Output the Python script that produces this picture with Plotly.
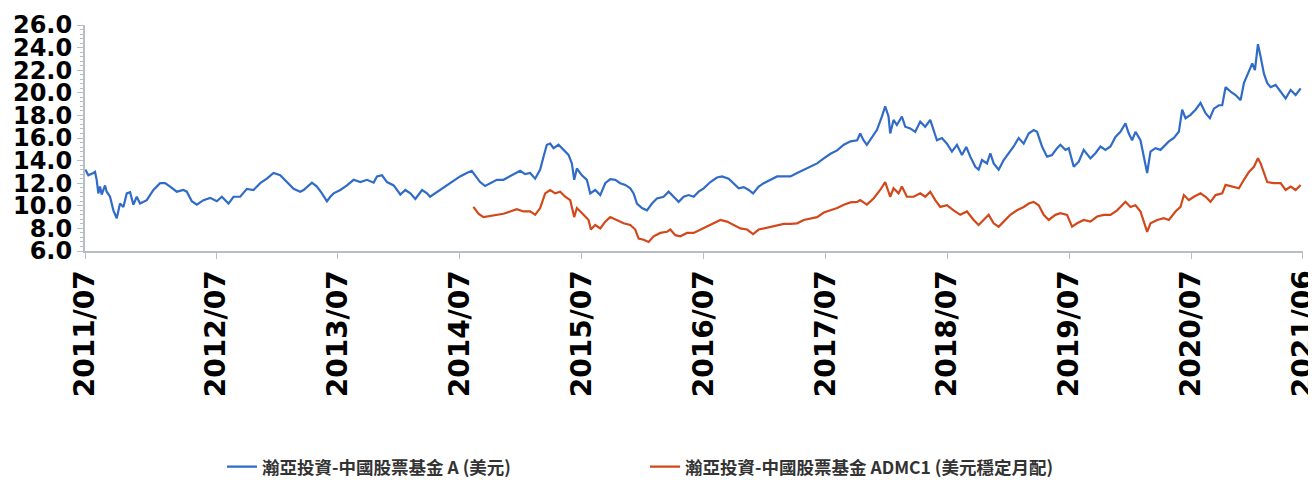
import plotly.graph_objects as go

# ---- data ----
a_dates = [
    "2011-06-05", "2011-06-14", "2011-06-29", "2011-07-04", "2011-07-09", "2011-07-14", "2011-07-19", "2011-07-24",
    "2011-08-03", "2011-08-08", "2011-08-18", "2011-08-28", "2011-09-07", "2011-09-17", "2011-09-27", "2011-10-07",
    "2011-10-17", "2011-10-27", "2011-11-06", "2011-11-16", "2011-12-06", "2011-12-26", "2012-01-15", "2012-01-30",
    "2012-02-14", "2012-03-05", "2012-03-25", "2012-04-04", "2012-04-19", "2012-05-04", "2012-05-24", "2012-06-13",
    "2012-07-03", "2012-07-18", "2012-08-07", "2012-08-22", "2012-09-11", "2012-10-01", "2012-10-21", "2012-11-10",
    "2012-11-30", "2012-12-20", "2013-01-09", "2013-01-29", "2013-02-18", "2013-03-10", "2013-03-20", "2013-04-14",
    "2013-04-29", "2013-05-14", "2013-05-29", "2013-06-08", "2013-06-18", "2013-07-08", "2013-07-28", "2013-08-17",
    "2013-09-06", "2013-09-26", "2013-10-16", "2013-10-26", "2013-11-10", "2013-11-25", "2013-12-15", "2014-01-04",
    "2014-01-19", "2014-02-03", "2014-02-18", "2014-03-10", "2014-03-25", "2014-04-03", "2014-05-03", "2014-06-02",
    "2014-07-02", "2014-07-22", "2014-08-06", "2014-08-16", "2014-08-31", "2014-09-15", "2014-09-30", "2014-10-20",
    "2014-11-09", "2014-11-29", "2014-12-19", "2014-12-29", "2015-01-13", "2015-01-28", "2015-02-12", "2015-02-27",
    "2015-03-09", "2015-03-19", "2015-03-29", "2015-04-08", "2015-04-23", "2015-05-08", "2015-05-23", "2015-06-02",
    "2015-06-09", "2015-06-17", "2015-07-02", "2015-07-17", "2015-07-27", "2015-08-11", "2015-08-26", "2015-09-10",
    "2015-09-25", "2015-10-10", "2015-10-25", "2015-11-09", "2015-11-24", "2015-12-04", "2015-12-14", "2015-12-29",
    "2016-01-13", "2016-01-28", "2016-02-12", "2016-03-03", "2016-03-18", "2016-04-02", "2016-04-17", "2016-05-02",
    "2016-05-17", "2016-06-01", "2016-06-16", "2016-07-01", "2016-07-21", "2016-08-10", "2016-08-25", "2016-09-14",
    "2016-09-29", "2016-10-14", "2016-10-29", "2016-11-13", "2016-11-26", "2016-12-13", "2016-12-28", "2017-01-17",
    "2017-02-06", "2017-02-26", "2017-03-18", "2017-04-07", "2017-04-27", "2017-05-17", "2017-06-06", "2017-06-26",
    "2017-07-16", "2017-08-05", "2017-08-25", "2017-09-14", "2017-10-04", "2017-10-13", "2017-10-23", "2017-11-02",
    "2017-11-17", "2017-12-02", "2017-12-17", "2017-12-27", "2018-01-06", "2018-01-11", "2018-01-21", "2018-01-31",
    "2018-02-15", "2018-02-25", "2018-03-12", "2018-03-27", "2018-04-11", "2018-04-26", "2018-05-11", "2018-05-21",
    "2018-05-31", "2018-06-15", "2018-06-30", "2018-07-15", "2018-07-30", "2018-08-14", "2018-08-27", "2018-09-08",
    "2018-09-23", "2018-10-03", "2018-10-13", "2018-10-28", "2018-11-07", "2018-11-17", "2018-12-02", "2018-12-17",
    "2019-01-01", "2019-01-16", "2019-01-31", "2019-02-15", "2019-03-02", "2019-03-17", "2019-03-27", "2019-04-11",
    "2019-04-26", "2019-05-11", "2019-05-26", "2019-06-05", "2019-06-20", "2019-06-30", "2019-07-15", "2019-07-30",
    "2019-08-14", "2019-09-03", "2019-09-18", "2019-10-03", "2019-10-18", "2019-11-02", "2019-11-17", "2019-12-02",
    "2019-12-17", "2019-12-27", "2020-01-06", "2020-01-16", "2020-01-31", "2020-02-10", "2020-02-20", "2020-03-01",
    "2020-03-16", "2020-03-31", "2020-04-15", "2020-04-25", "2020-05-10", "2020-05-25", "2020-06-04", "2020-06-14",
    "2020-06-29", "2020-07-14", "2020-07-29", "2020-08-13", "2020-08-26", "2020-09-07", "2020-09-22", "2020-10-02",
    "2020-10-12", "2020-10-27", "2020-11-11", "2020-11-26", "2020-12-06", "2020-12-21", "2020-12-31", "2021-01-08",
    "2021-01-17", "2021-01-25", "2021-02-04", "2021-02-14", "2021-02-24", "2021-03-11", "2021-03-26", "2021-04-10",
    "2021-04-25", "2021-05-10", "2021-05-25",
]
a_values = [
    13.2, 12.7, 12.9, 13.0, 12.3, 11.1, 11.7, 11.0,
    11.8, 11.25, 10.8, 9.6, 8.9, 10.2, 9.9, 11.1,
    11.2, 10.1, 10.8, 10.2, 10.5, 11.4, 12.0, 12.0,
    11.7, 11.25, 11.4, 11.25, 10.4, 10.1, 10.5, 10.7,
    10.4, 10.8, 10.2, 10.8, 10.8, 11.5, 11.4, 12.0,
    12.4, 12.9, 12.7, 12.1, 11.5, 11.25, 11.4, 12.05,
    11.7, 11.1, 10.4, 10.8, 11.1, 11.4, 11.8, 12.3,
    12.1, 12.3, 12.05, 12.6, 12.7, 12.1, 11.8, 11.0,
    11.4, 11.1, 10.6, 11.4, 11.1, 10.8, 11.4, 12.0,
    12.6, 12.9, 13.1, 12.7, 12.1, 11.75, 12.0, 12.3,
    12.3, 12.6, 12.9, 13.1, 12.8, 12.9, 12.4, 13.2,
    14.35, 15.4, 15.5, 15.1, 15.4, 14.9, 14.5, 13.75,
    12.3, 13.3, 12.7, 12.3, 11.1, 11.4, 10.95, 12.0,
    12.35, 12.3, 12.0, 11.85, 11.55, 11.1, 10.2, 9.8,
    9.6, 10.2, 10.65, 10.8, 11.25, 10.8, 10.35, 10.8,
    10.95, 10.8, 11.25, 11.55, 12.1, 12.5, 12.6, 12.4,
    12.0, 11.55, 11.65, 11.4, 11.1, 11.7, 12.0, 12.3,
    12.6, 12.6, 12.6, 12.9, 13.2, 13.5, 13.75, 14.2,
    14.6, 14.9, 15.4, 15.7, 15.8, 16.4, 15.8, 15.4,
    16.1, 16.7, 17.9, 18.8, 17.9, 16.4, 17.6, 17.15,
    17.9, 17.0, 16.85, 16.55, 17.45, 17.0, 17.6, 16.7,
    15.8, 16.0, 15.5, 14.8, 15.4, 14.5, 15.2, 14.35,
    13.45, 13.2, 14.05, 13.75, 14.65, 13.75, 13.2, 14.05,
    14.65, 15.25, 16.0, 15.5, 16.4, 16.7, 16.55, 15.25,
    14.35, 14.5, 15.1, 15.4, 14.95, 15.1, 13.45, 13.9,
    14.95, 14.2, 14.65, 15.25, 14.95, 15.25, 16.1, 16.55,
    17.3, 16.4, 15.8, 16.55, 15.8, 14.35, 12.9, 14.8,
    15.1, 14.95, 15.4, 15.7, 16.0, 16.55, 18.5, 17.75,
    18.05, 18.5, 19.1, 18.2, 17.75, 18.6, 18.9, 18.9,
    20.5, 20.1, 19.8, 19.35, 20.85, 21.9, 22.6, 22.0,
    24.3, 23.2, 21.7, 20.85, 20.5, 20.7, 20.1, 19.5,
    20.25, 19.8, 20.4,
]

m_dates = [
    "2014-08-11", "2014-08-26", "2014-09-10", "2014-09-30", "2014-10-20", "2014-11-09", "2014-11-29", "2014-12-19",
    "2015-01-08", "2015-01-28", "2015-02-12", "2015-02-27", "2015-03-14", "2015-03-29", "2015-04-13", "2015-04-28",
    "2015-05-13", "2015-05-28", "2015-06-09", "2015-06-17", "2015-07-07", "2015-07-22", "2015-07-29", "2015-08-11",
    "2015-08-26", "2015-09-10", "2015-09-25", "2015-10-15", "2015-11-04", "2015-11-24", "2015-12-09", "2015-12-19",
    "2016-01-03", "2016-01-18", "2016-02-02", "2016-02-22", "2016-03-13", "2016-03-23", "2016-04-07", "2016-04-22",
    "2016-05-12", "2016-06-01", "2016-06-21", "2016-07-11", "2016-07-31", "2016-08-20", "2016-09-09", "2016-09-29",
    "2016-10-19", "2016-11-08", "2016-11-26", "2016-12-13", "2016-12-28", "2017-01-17", "2017-02-06", "2017-02-26",
    "2017-03-18", "2017-04-07", "2017-04-27", "2017-05-17", "2017-06-06", "2017-06-26", "2017-07-16", "2017-08-05",
    "2017-08-25", "2017-09-14", "2017-10-04", "2017-10-13", "2017-11-02", "2017-11-22", "2017-12-12", "2017-12-27",
    "2018-01-11", "2018-01-21", "2018-02-05", "2018-02-15", "2018-03-02", "2018-03-22", "2018-04-11", "2018-04-26",
    "2018-05-11", "2018-05-26", "2018-06-10", "2018-06-30", "2018-07-20", "2018-08-09", "2018-08-29", "2018-09-18",
    "2018-10-03", "2018-10-18", "2018-11-02", "2018-11-17", "2018-12-02", "2018-12-17", "2019-01-06", "2019-01-26",
    "2019-02-15", "2019-03-02", "2019-03-17", "2019-04-01", "2019-04-16", "2019-05-01", "2019-05-21", "2019-06-05",
    "2019-06-25", "2019-07-10", "2019-07-25", "2019-08-14", "2019-09-03", "2019-09-23", "2019-10-13", "2019-11-02",
    "2019-11-22", "2019-12-17", "2020-01-01", "2020-01-16", "2020-01-31", "2020-02-10", "2020-02-20", "2020-03-01",
    "2020-03-21", "2020-04-10", "2020-04-25", "2020-05-15", "2020-05-30", "2020-06-09", "2020-06-24", "2020-07-09",
    "2020-07-29", "2020-08-13", "2020-08-28", "2020-09-12", "2020-10-02", "2020-10-12", "2020-11-01", "2020-11-21",
    "2020-12-06", "2020-12-21", "2021-01-05", "2021-01-17", "2021-01-25", "2021-02-04", "2021-02-14", "2021-03-06",
    "2021-03-26", "2021-04-10", "2021-04-25", "2021-05-10", "2021-05-25",
]
m_values = [
    9.9, 9.3, 9.0, 9.1, 9.2, 9.3, 9.5, 9.7,
    9.5, 9.5, 9.2, 9.8, 11.1, 11.4, 11.1, 11.25,
    10.8, 10.5, 9.0, 9.8, 9.2, 8.75, 7.9, 8.3,
    8.0, 8.6, 9.0, 8.75, 8.45, 8.3, 7.9, 7.1,
    7.0, 6.8, 7.3, 7.6, 7.7, 7.9, 7.4, 7.3,
    7.6, 7.6, 7.9, 8.15, 8.45, 8.75, 8.6, 8.3,
    8.0, 7.9, 7.5, 7.9, 8.0, 8.15, 8.3, 8.4,
    8.4, 8.45, 8.75, 8.9, 9.0, 9.4, 9.6, 9.8,
    10.1, 10.3, 10.35, 10.5, 10.1, 10.65, 11.4, 12.1,
    10.8, 11.55, 11.1, 11.7, 10.8, 10.8, 11.1, 10.8,
    11.25, 10.5, 9.9, 10.05, 9.6, 9.2, 9.5, 8.75,
    8.3, 8.75, 9.2, 8.45, 8.15, 8.6, 9.2, 9.6,
    9.9, 10.2, 10.35, 10.05, 9.2, 8.75, 9.2, 9.35,
    9.2, 8.15, 8.45, 8.75, 8.6, 9.05, 9.2, 9.2,
    9.6, 10.35, 9.9, 10.05, 9.5, 8.6, 7.7, 8.45,
    8.75, 8.9, 8.75, 9.5, 9.9, 10.95, 10.5, 10.8,
    11.1, 10.8, 10.35, 10.95, 11.1, 11.85, 11.7, 11.55,
    12.3, 13.0, 13.45, 14.2, 13.75, 12.9, 12.1, 12.0,
    12.0, 11.4, 11.7, 11.4, 11.85,
]

series_names = ["瀚亞投資-中國股票基金 A (美元)", "瀚亞投資-中國股票基金 ADMC1 (美元穩定月配)"]
series_colors = ["#2f6bc7", "#d2481b"]

x_tick_vals = ["2011-06-04", "2012-07-01", "2013-07-01", "2014-07-01", "2015-07-01", "2016-07-01",
               "2017-07-01", "2018-07-01", "2019-07-01", "2020-07-01", "2021-06-01"]
x_tick_text = ["2011/07", "2012/07", "2013/07", "2014/07", "2015/07", "2016/07",
               "2017/07", "2018/07", "2019/07", "2020/07", "2021/06"]
x_range = ["2011-06-03 23:00", "2021-06-01 01:00"]
y_range = [6, 26]

fig = go.Figure()
fig.add_trace(go.Scatter(x=a_dates, y=a_values, mode="lines", name=series_names[0],
                         line=dict(color=series_colors[0], width=2.2)))
fig.add_trace(go.Scatter(x=m_dates, y=m_values, mode="lines", name=series_names[1],
                         line=dict(color=series_colors[1], width=2.2)))

axis_gray = "#b9bdc5"
# the page body has an 8px margin, so the figure is sized to fit the window
fig.update_layout(
    width=1308, height=472,
    margin=dict(l=77, r=13, t=17, b=229, autoexpand=False),
    paper_bgcolor="white", plot_bgcolor="white",
    showlegend=True,
    legend=dict(orientation="h", x=(222 - 85) / 1218, xanchor="left",
                y=-0.955, yanchor="middle",
                entrywidth=378, entrywidthmode="pixels",
                font=dict(family="Noto Sans CJK TC", size=17.5, color="#333333", weight="bold"),
                bgcolor="rgba(0,0,0,0)"),
    xaxis=dict(type="date", range=x_range,
               tickmode="array", tickvals=x_tick_vals, ticktext=x_tick_text,
               tickangle=-90, showgrid=False, zeroline=False,
               showline=True, linecolor=axis_gray, linewidth=2,
               ticks="outside", ticklen=6, tickcolor=axis_gray, tickwidth=1,
               ticklabeloverflow="allow",
               tickfont=dict(family="DejaVu Sans", size=28, color="black", weight="bold")),
    yaxis=dict(range=y_range, tickmode="linear", tick0=6, dtick=2, tickformat=".1f",
               showgrid=False, zeroline=False,
               showline=True, linecolor=axis_gray, linewidth=2,
               ticks="outside", ticklen=6, tickcolor=axis_gray, tickwidth=1,
               minor=dict(ticks="outside", dtick=0.4, ticklen=3, tickcolor=axis_gray, showgrid=False),
               tickfont=dict(family="DejaVu Sans", size=24, color="black", weight="bold")),
)

fig.write_html("out.html")
